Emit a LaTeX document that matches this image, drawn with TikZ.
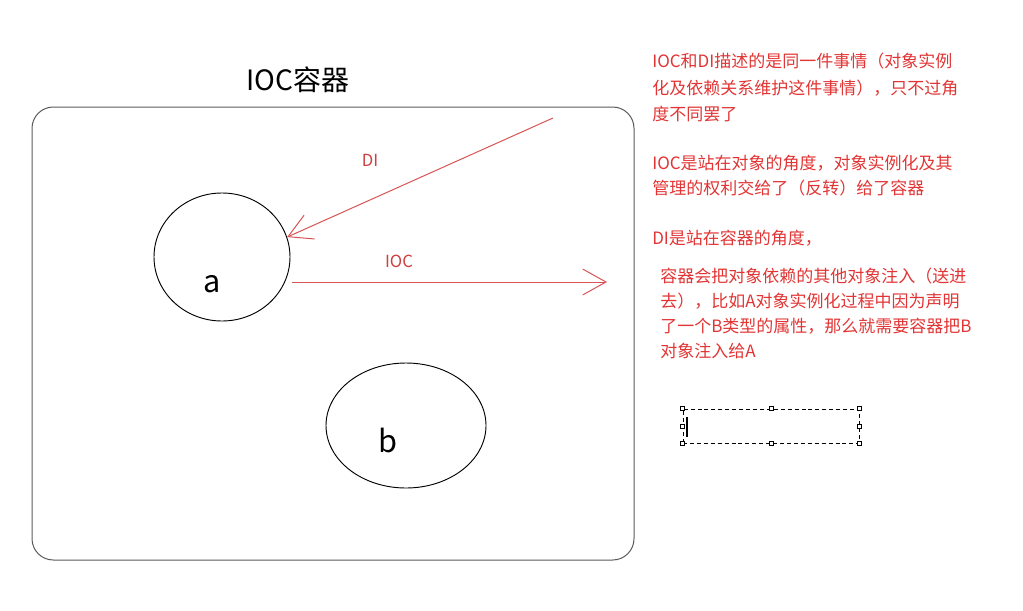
\documentclass[tikz,border=0pt]{standalone}
\usepackage{fontspec}
\setmainfont{Noto Sans CJK SC}
\usetikzlibrary{arrows.meta,shapes.geometric}
\definecolor{txtred}{RGB}{226,52,52}
\definecolor{arrred}{RGB}{216,84,84}
\definecolor{lblred}{RGB}{208,62,62}
\definecolor{boxgray}{RGB}{90,90,90}
\begin{document}
\begin{tikzpicture}[x=0.75pt,y=-0.75pt,
  redtxt/.style={anchor=base west, inner sep=0pt, text=txtred, font=\fontsize{12.75}{15}\selectfont},
  arrlbl/.style={inner sep=0pt, text=lblred, font=\fontsize{12.5}{15}\selectfont},
  oval/.style={ellipse, draw=black, line width=0.7pt, inner sep=0pt},
  redarrow/.style={draw=arrred, line width=0.75pt, -{Straight Barb[length=17.5pt,width=19.5pt,line width=0.75pt]}},
  handle/.style={draw=black, fill=white, line width=0.5pt, minimum size=3pt, inner sep=0pt},
  letter/.style={inner sep=0pt, font=\fontsize{23}{26}\selectfont}]
\useasboundingbox (0,0) rectangle (1023,610);

% title and container
\node (title) [inner sep=0pt, font=\fontsize{21}{24}\selectfont] at (298,80) {IOC容器};
\node (container) [draw=boxgray, line width=0.75pt, rounded corners=16pt, minimum width=451.5pt, minimum height=339.75pt, inner sep=0pt] at (333,333.5) {};

% objects
\node (a) [oval, minimum width=102pt, minimum height=96pt] at (222,257) {};
\node (alabel) [letter] at (212,284) {a};
\node (b) [oval, minimum width=120pt, minimum height=93.75pt] at (406,425.5) {};
\node (blabel) [letter] at (388,440) {b};

% arrows
\coordinate (di0) at (553,118);
\draw[redarrow] (di0) -- (a.17.9);
\node (dilbl) [arrlbl] at (370,160) {DI};
\coordinate (ioc0) at (292,282);
\coordinate (ioc1) at (607,282);
\draw[redarrow] (ioc0) -- (ioc1);
\node (ioclbl) [arrlbl] at (399,261) {IOC};

% explanatory text
\node (t11) [redtxt] at (652,68) {IOC和DI描述的是同一件事情（对象实例};
\node (t12) [redtxt] at (652,94) {化及依赖关系维护这件事情），只不过角};
\node (t13) [redtxt] at (652,120) {度不同罢了};
\node (t21) [redtxt] at (652,169) {IOC是站在对象的角度，对象实例化及其};
\node (t22) [redtxt] at (652,194) {管理的权利交给了（反转）给了容器};
\node (t31) [redtxt] at (652,244) {DI是站在容器的角度，};
\node (t41) [redtxt] at (660,282) {容器会把对象依赖的其他对象注入（送进};
\node (t42) [redtxt] at (660,307) {去），比如A对象实例化过程中因为声明};
\node (t43) [redtxt] at (660,332) {了一个B类型的属性，那么就需要容器把B};
\node (t44) [redtxt] at (660,357) {对象注入给A};

% selected empty text box
\node (sel) [draw=black, line width=0.55pt, dash pattern=on 3pt off 2.2pt, minimum width=132pt, minimum height=25.5pt, inner sep=0pt] at (771,426) {};
\foreach \an/\nm in {north west/h1, north/h2, north east/h3, west/h4, east/h5, south west/h6, south/h7, south east/h8}
  \node (\nm) [handle] at (sel.\an) {};
\coordinate (cur0) at (687,417);
\coordinate (cur1) at (687,437);
\draw[line width=0.8pt] (cur0) -- (cur1);
\end{tikzpicture}
\end{document}
